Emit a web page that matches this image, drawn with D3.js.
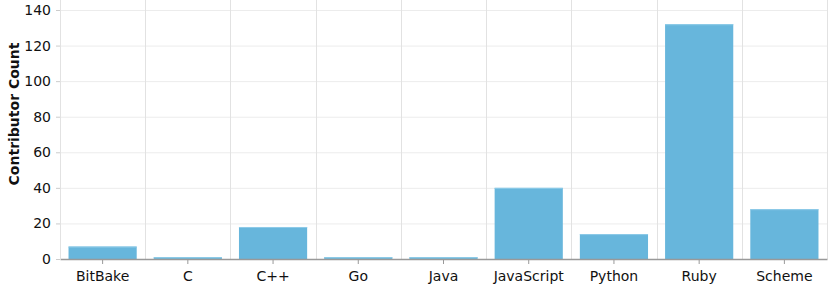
<!DOCTYPE html>
<html>
<head>
<meta charset="utf-8">
<script src="https://cdn.jsdelivr.net/npm/d3@7"></script>
<style>
  body { margin: 0; background: #fff; }
  svg { display: block; font-family: "DejaVu Sans", Verdana, sans-serif; }
</style>
</head>
<body>
<div id="chart"></div>
<script>
const languages = ["BitBake", "C", "C++", "Go", "Java", "JavaScript", "Python", "Ruby", "Scheme"];
const contributors = [7, 1, 18, 1, 1, 40, 14, 132, 28];
const yTicks = [0, 20, 40, 60, 80, 100, 120, 140];

const data = languages.map((name, i) => ({name: name, count: contributors[i]}));

const width = 831;
const height = 288;
const marginTop = 10;
const marginRight = 4;
const marginBottom = 29;
const marginLeft = 60;

const svg = d3.select("#chart")
    .append("svg")
    .attr("width", width)
    .attr("height", height);

const x = d3.scaleBand()
    .domain(languages)
    .range([marginLeft, width - marginRight])
    .paddingInner(0.2)
    .paddingOuter(0.1);

// band edges for the vertical grid lines
const step = x.step();

const y = d3.scaleLinear()
    .domain([0, 140])
    .range([height - marginBottom, marginTop]);

// horizontal grid
svg.append("g")
    .selectAll("line")
    .data(yTicks.slice(1))
    .join("line")
    .attr("x1", marginLeft)
    .attr("x2", width - marginRight)
    .attr("y1", d => y(d) + 0.5)
    .attr("y2", d => y(d) + 0.5)
    .attr("stroke", "#ececec");

// vertical grid at category boundaries
svg.append("g")
    .selectAll("line")
    .data(d3.range(languages.length + 1))
    .join("line")
    .attr("x1", i => Math.round(marginLeft + i * step) + 0.5)
    .attr("x2", i => Math.round(marginLeft + i * step) + 0.5)
    .attr("y1", 0)
    .attr("y2", y(0))
    .attr("stroke", "#e2e2e2");

// bars
svg.append("g")
    .selectAll("rect")
    .data(data)
    .join("rect")
    .attr("x", d => x(d.name))
    .attr("y", d => y(d.count))
    .attr("width", x.bandwidth())
    .attr("height", d => y(0) - y(d.count))
    .attr("fill", "#67b6dc");

// light top edge on bars
svg.append("g")
    .selectAll("line")
    .data(data)
    .join("line")
    .attr("x1", d => x(d.name))
    .attr("x2", d => x(d.name) + x.bandwidth())
    .attr("y1", d => y(d.count) + 0.5)
    .attr("y2", d => y(d.count) + 0.5)
    .attr("stroke", "#8ecbe8");

// x axis
const xAxis = svg.append("g")
    .attr("transform", `translate(0,${y(0)})`)
    .call(d3.axisBottom(x).tickSize(5).tickSizeOuter(0).tickPadding(7));
xAxis.select(".domain").attr("stroke", "#999").attr("stroke-width", 1.5);
xAxis.selectAll(".tick line").attr("stroke", "#999");
xAxis.selectAll("text").attr("font-size", 14).attr("font-family", "DejaVu Sans").attr("fill", "#111");

// y axis
const yAxis = svg.append("g")
    .attr("transform", `translate(${marginLeft},0)`)
    .call(d3.axisLeft(y).tickValues(yTicks).tickSize(4).tickSizeOuter(0).tickPadding(5));
yAxis.select(".domain").attr("stroke", "#e2e2e2");
yAxis.selectAll(".tick line").attr("stroke", "#ccc");
yAxis.selectAll("text").attr("font-size", 14).attr("font-family", "DejaVu Sans").attr("fill", "#111");

// y label
svg.append("text")
    .attr("transform", "translate(19,114) rotate(-90)")
    .attr("text-anchor", "middle")
    .attr("font-size", 14)
    .attr("font-weight", "bold")
    .attr("fill", "#111")
    .text("Contributor Count");
</script>
</body>
</html>
